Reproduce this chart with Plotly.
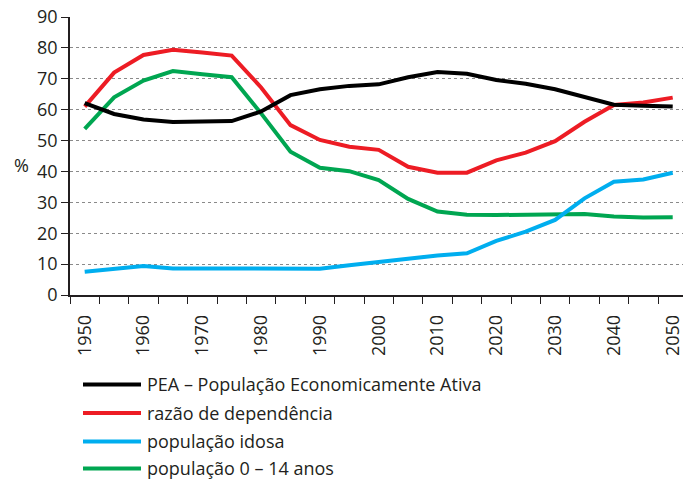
import plotly.graph_objects as go

years = list(range(1950, 2051, 5))
pea = [62.1, 58.6, 56.8, 56.0, 56.2, 56.3, 59.4, 64.7, 66.6, 67.7, 68.2, 70.5, 72.2, 71.6, 69.6, 68.4, 66.6, 64.2, 61.6, 61.3, 61.0]
razao = [61.0, 72.0, 77.7, 79.4, 78.5, 77.5, 67.2, 55.0, 50.2, 48.0, 47.0, 41.5, 39.6, 39.6, 43.6, 46.1, 49.8, 56.1, 61.5, 62.3, 63.9]
idosa = [7.5, 8.6, 9.4, 8.6, 8.6, 8.6, 8.3, 8.5, 8.5, 9.6, 10.7, 11.8, 12.8, 13.5, 17.5, 20.5, 24.3, 31.3, 36.7, 37.4, 39.6]
jovens = [53.8, 64.0, 69.4, 72.5, 71.5, 70.5, 58.8, 46.4, 41.2, 40.1, 37.2, 31.1, 27.0, 26.0, 25.9, 26.0, 26.2, 26.2, 25.4, 25.1, 25.2]
names = ["PEA – População Economicamente Ativa", "razão de dependência",
         "população idosa", "população 0 – 14 anos"]
colors = ["#000000", "#ED1C24", "#00AEEF", "#00A651"]
tick_years = list(range(1950, 2051, 10))
y_ticks = list(range(0, 91, 10))

FONT = "Open Sans"
TXT = "#231F20"

fig = go.Figure()
series = [pea, razao, idosa, jovens]
# draw order: green, blue, red, black on top
for idx in [3, 2, 1, 0]:
    fig.add_trace(go.Scatter(x=years, y=series[idx], mode="lines", name=names[idx],
                             line=dict(color=colors[idx], width=4), showlegend=False))

# custom legend
W, H = 683, 480
ml, mr, mt, mb = 70, 0, 17, 185
pw, ph = W - ml - mr, H - mt - mb
def px_x(p):
    return (p - ml) / pw
def px_y(p):
    return (H - mb - p) / ph

rows = [384.5, 413, 441.5, 468.5]
for i, (nm, col) in enumerate(zip(names, colors)):
    y = px_y(rows[i])
    fig.add_shape(type="line", xref="paper", yref="paper",
                  x0=px_x(83), x1=px_x(141), y0=y, y1=y,
                  line=dict(color=col, width=4))
    fig.add_annotation(text=nm, xref="paper", yref="paper", x=px_x(146), y=px_y(rows[i] - 0.5),
                       xanchor="left", yanchor="middle", showarrow=False, borderpad=0,
                       font=dict(family=FONT, size=18, color=TXT))

fig.add_annotation(text="%", xref="paper", yref="paper", x=px_x(21), y=px_y(165),
                   xanchor="center", yanchor="middle", showarrow=False,
                   font=dict(family=FONT, size=18, color=TXT))

fig.update_layout(
    template="none",
    width=W, height=H,
    margin=dict(l=ml, r=mr, t=mt, b=mb, autoexpand=False),
    paper_bgcolor="white", plot_bgcolor="white",
    font=dict(family=FONT, size=18, color=TXT),
    showlegend=False,
)
fig.update_xaxes(
    automargin=False,
    range=[1947.5, 2051.75],
    tickmode="array", tickvals=tick_years, ticktext=[str(t) for t in tick_years],
    ticks="outside", ticklen=11, tickcolor="rgba(0,0,0,0)", tickangle=-90,
    ticklabeloverflow="allow",
    showgrid=False, zeroline=False,
    showline=True, linecolor="#231F20", linewidth=1.5,
    minor=dict(tickmode="linear", tick0=1947.5, dtick=5, ticks="outside",
               ticklen=7, tickcolor="#231F20", tickwidth=1.2, showgrid=False),
    tickfont=dict(family=FONT, size=18, color=TXT),
)
fig.update_yaxes(
    automargin=False,
    range=[0, 90], tickmode="array", tickvals=y_ticks,
    ticks="outside", ticklen=7, tickcolor="#231F20", tickwidth=1.2,
    showgrid=True, gridcolor="#8a8a8a", gridwidth=1, griddash="3px,3px",
    zeroline=False, showline=True, linecolor="#231F20", linewidth=1.5,
    tickfont=dict(family=FONT, size=18, color=TXT),
)

fig.write_html("out.html", config={"displayModeBar": False},
               post_script="document.body.style.margin='0';document.body.style.overflow='hidden';")
